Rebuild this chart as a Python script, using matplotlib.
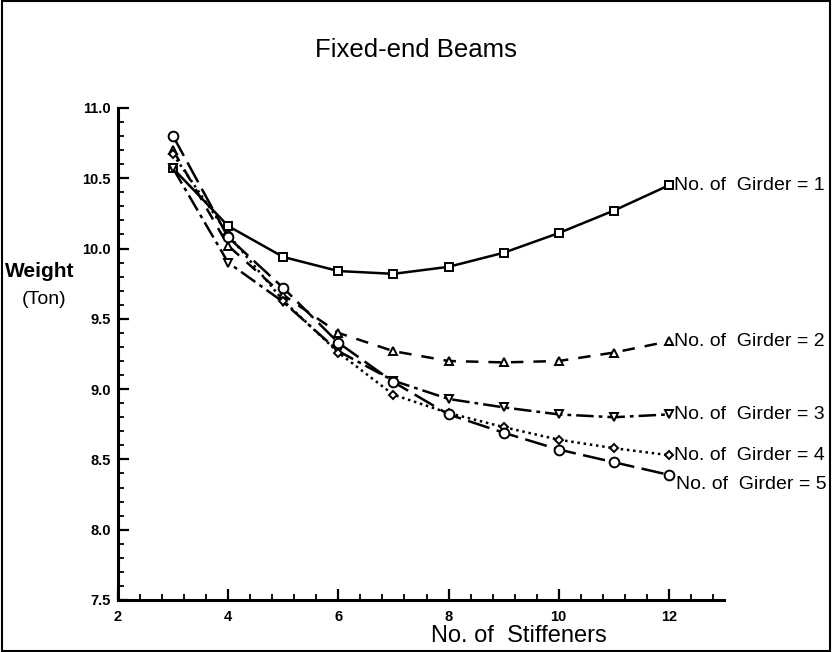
import matplotlib
matplotlib.use("Agg")
import matplotlib.pyplot as plt
from matplotlib.ticker import MultipleLocator
from matplotlib.patches import Rectangle

plt.rcParams['font.family'] = ['Liberation Sans', 'DejaVu Sans']

# data
stiffeners = [3, 4, 5, 6, 7, 8, 9, 10, 11, 12]
girder_1 = [10.57, 10.16, 9.94, 9.84, 9.82, 9.87, 9.97, 10.11, 10.27, 10.45]
girder_2 = [10.70, 10.02, 9.67, 9.40, 9.27, 9.20, 9.19, 9.20, 9.26, 9.34]
girder_3 = [10.57, 9.90, 9.62, 9.27, 9.06, 8.93, 8.87, 8.82, 8.80, 8.82]
girder_4 = [10.67, 10.10, 9.63, 9.26, 8.96, 8.83, 8.73, 8.64, 8.58, 8.53]
girder_5 = [10.80, 10.08, 9.72, 9.33, 9.05, 8.82, 8.69, 8.57, 8.48, 8.39]
labels = ["No. of  Girder = 1", "No. of  Girder = 2", "No. of  Girder = 3",
          "No. of  Girder = 4", "No. of  Girder = 5"]

fig = plt.figure(figsize=(8.32, 6.52), dpi=100)
ax = fig.add_axes([0.1418, 0.0798, 0.7284, 0.7546])

# frame round the whole picture
fig.patches.append(Rectangle((0.002, 0.002), 0.996, 0.996, transform=fig.transFigure,
                             fill=False, lw=1.5, ec='black'))

styles = [
    dict(ls='-', marker='s', ms=5.5),
    dict(ls=(0, (5, 4)), marker='^', ms=5.5),
    dict(ls=(0, (7, 2, 1.5, 2)), marker='v', ms=5.5),
    dict(ls=(0, (1, 1.5)), marker='D', ms=4.5),
    dict(ls=(0, (9, 3)), marker='o', ms=7),
]
series = [girder_1, girder_2, girder_3, girder_4, girder_5]
offsets = [(1, 0), (1, 0), (1, 0), (1, 0), (2, -7)]

for ys, st, lab, off in zip(series, styles, labels, offsets):
    ax.plot(stiffeners, ys, color='black', lw=1.8, mfc='white', mec='black',
            mew=1.4, linestyle=st['ls'], marker=st['marker'], ms=st['ms'],
            clip_on=False)
    ax.annotate(lab, xy=(stiffeners[-1], ys[-1]), xytext=(off[0] + 3, off[1]),
                textcoords='offset points', ha='left', va='center',
                fontsize=14, annotation_clip=False)

ax.set_xlim(2, 13)
ax.set_ylim(7.5, 11.0)
ax.xaxis.set_major_locator(MultipleLocator(2))
ax.xaxis.set_minor_locator(MultipleLocator(0.4))
ax.yaxis.set_major_locator(MultipleLocator(0.5))
ax.yaxis.set_minor_locator(MultipleLocator(0.1))
ax.yaxis.set_major_formatter(plt.FormatStrFormatter('%.1f'))

for s in ['top', 'right']:
    ax.spines[s].set_visible(False)
for s in ['left', 'bottom']:
    ax.spines[s].set_linewidth(2.2)

ax.tick_params(which='major', direction='in', length=8, width=1.6,
               labelsize=10.5)
ax.tick_params(which='minor', direction='in', length=4.5, width=1.3)
for t in ax.get_xticklabels() + ax.get_yticklabels():
    t.set_fontweight('bold')
ax.tick_params(axis='x', pad=7)
ax.tick_params(axis='y', pad=5)

fig.text(0.5, 0.923, "Fixed-end Beams", ha='center', va='center', fontsize=18.5)
fig.text(0.006, 0.583, "Weight", ha='left', va='center', fontsize=15,
         fontweight='bold')
fig.text(0.026, 0.540, "(Ton)", ha='left', va='center', fontsize=14)
fig.text(0.624, 0.0153, "No. of  Stiffeners", ha='center', va='baseline', fontsize=17)

fig.savefig("out.png", dpi=100)
